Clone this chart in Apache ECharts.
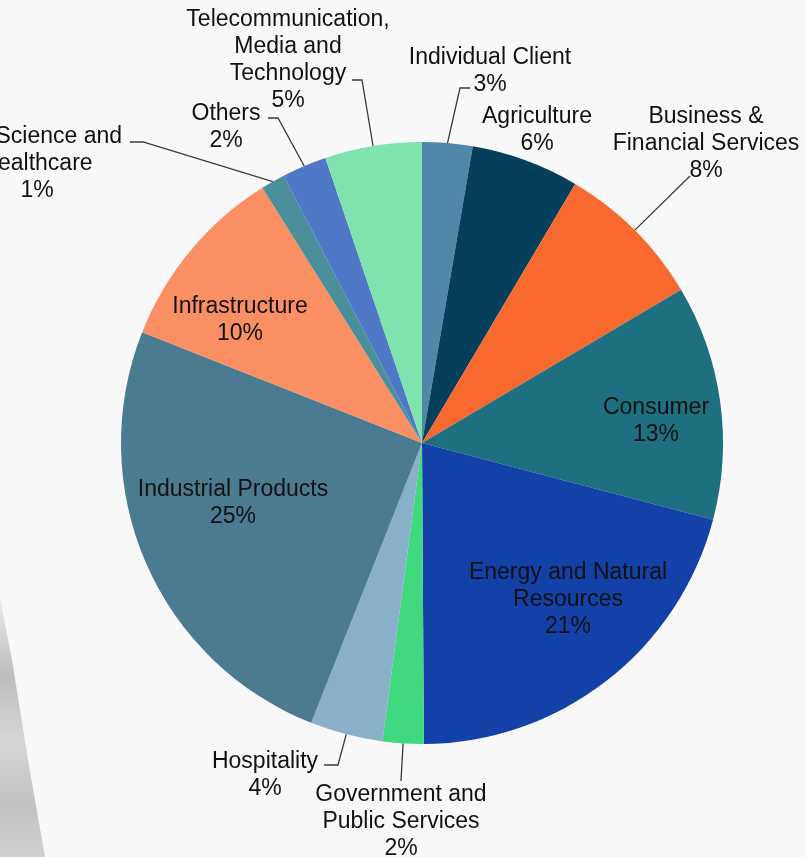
<!DOCTYPE html>
<html>
<head>
<meta charset="utf-8">
<script src="https://cdn.jsdelivr.net/npm/echarts@6/dist/echarts.min.js"></script>
<style>
html,body{margin:0;padding:0;background:#f8f8f8;}
#chart{width:806px;height:857px;}
</style>
</head>
<body>
<div id="chart"></div>
<script>
// ---- data ----
const categories = [
  'Individual Client',
  'Agriculture',
  'Business &\nFinancial Services',
  'Consumer',
  'Energy and Natural\nResources',
  'Government and\nPublic Services',
  'Hospitality',
  'Industrial Products',
  'Infrastructure',
  'Life Science and\nHealthcare',
  'Others',
  'Telecommunication,\nMedia and\nTechnology'
];
const values = [2.7, 5.8, 8.0, 12.6, 20.8, 2.2, 3.9, 25.0, 10.1, 1.3, 2.4, 5.2];

// ---- styles ----
const colors = ['#5088a8', '#053f5c', '#f7692e', '#1e7080', '#1341a8', '#40d97f',
                '#89b0c8', '#4b7b91', '#f98f63', '#4b8f9a', '#4f78c6', '#80e3ad'];
const insideLabels = ['Consumer', 'Energy and Natural\nResources', 'Industrial Products', 'Infrastructure'];
const noLine = ['Agriculture'];
// label anchor (center) positions and leader-line bends, in px
const labelLayoutMap = {
  'Individual Client': {x: 490, y: 71, line: [[460, 88], [470, 88]]},
  'Agriculture': {x: 537, y: 130},
  'Business &\nFinancial Services': {x: 706, y: 144, line: [[690, 176]]},
  'Consumer': {x: 656, y: 421},
  'Energy and Natural\nResources': {x: 568, y: 600},
  'Government and\nPublic Services': {x: 401, y: 822, line: [[401, 781]]},
  'Hospitality': {x: 265, y: 775, line: [[338, 765], [324, 765]]},
  'Industrial Products': {x: 233, y: 503},
  'Infrastructure': {x: 240, y: 320},
  'Life Science and\nHealthcare': {x: 37, y: 164, line: [[143, 142], [130, 142]]},
  'Others': {x: 226, y: 127, line: [[278, 118], [268, 118]]},
  'Telecommunication,\nMedia and\nTechnology': {x: 288, y: 60, line: [[362, 80], [352, 80]]}
};

const pieData = categories.map((name, i) => ({
  name: name,
  value: values[i],
  itemStyle: {color: colors[i]},
  label: {position: insideLabels.includes(name) ? 'inside' : 'outside'},
  labelLine: {show: !insideLabels.includes(name) && !noLine.includes(name)}
}));

const chart = echarts.init(document.getElementById('chart'), null, {renderer: 'canvas'});
chart.setOption({
  backgroundColor: '#f8f8f8',
  animation: false,
  graphic: [{
    type: 'polygon',
    z: -1,
    shape: {points: [[0, 597], [12, 660], [28, 760], [45, 857], [0, 857]]},
    style: {
      fill: new echarts.graphic.LinearGradient(0, 0, 0, 1, [
        {offset: 0, color: '#ececec'},
        {offset: 0.3, color: '#bdbdbd'},
        {offset: 0.55, color: '#d6d6d6'},
        {offset: 0.8, color: '#c2c2c2'},
        {offset: 1, color: '#d0d0d0'}
      ])
    }
  }],
  series: [{
    type: 'pie',
    center: [422, 443],
    radius: 301,
    startAngle: 90,
    clockwise: true,
    avoidLabelOverlap: false,
    data: pieData,
    itemStyle: {borderWidth: 0},
    label: {
      show: true,
      color: '#111111',
      fontFamily: 'Liberation Sans, Arial, sans-serif',
      fontSize: 23,
      lineHeight: 27,
      align: 'center',
      formatter: p => p.name + '\n' + Math.round(p.percent) + '%'
    },
    labelLine: {
      show: true,
      length: 20,
      length2: 10,
      lineStyle: {color: '#3a3a3a', width: 1.3}
    },
    labelLayout: function (p) {
      const name = categories[p.dataIndex];
      const L = labelLayoutMap[name];
      const out = {x: L.x, y: L.y, align: 'center', verticalAlign: 'middle'};
      if (L.line && p.labelLinePoints && p.labelLinePoints.length) {
        out.labelLinePoints = [p.labelLinePoints[0]].concat(L.line);
      }
      return out;
    }
  }]
});
</script>
</body>
</html>
